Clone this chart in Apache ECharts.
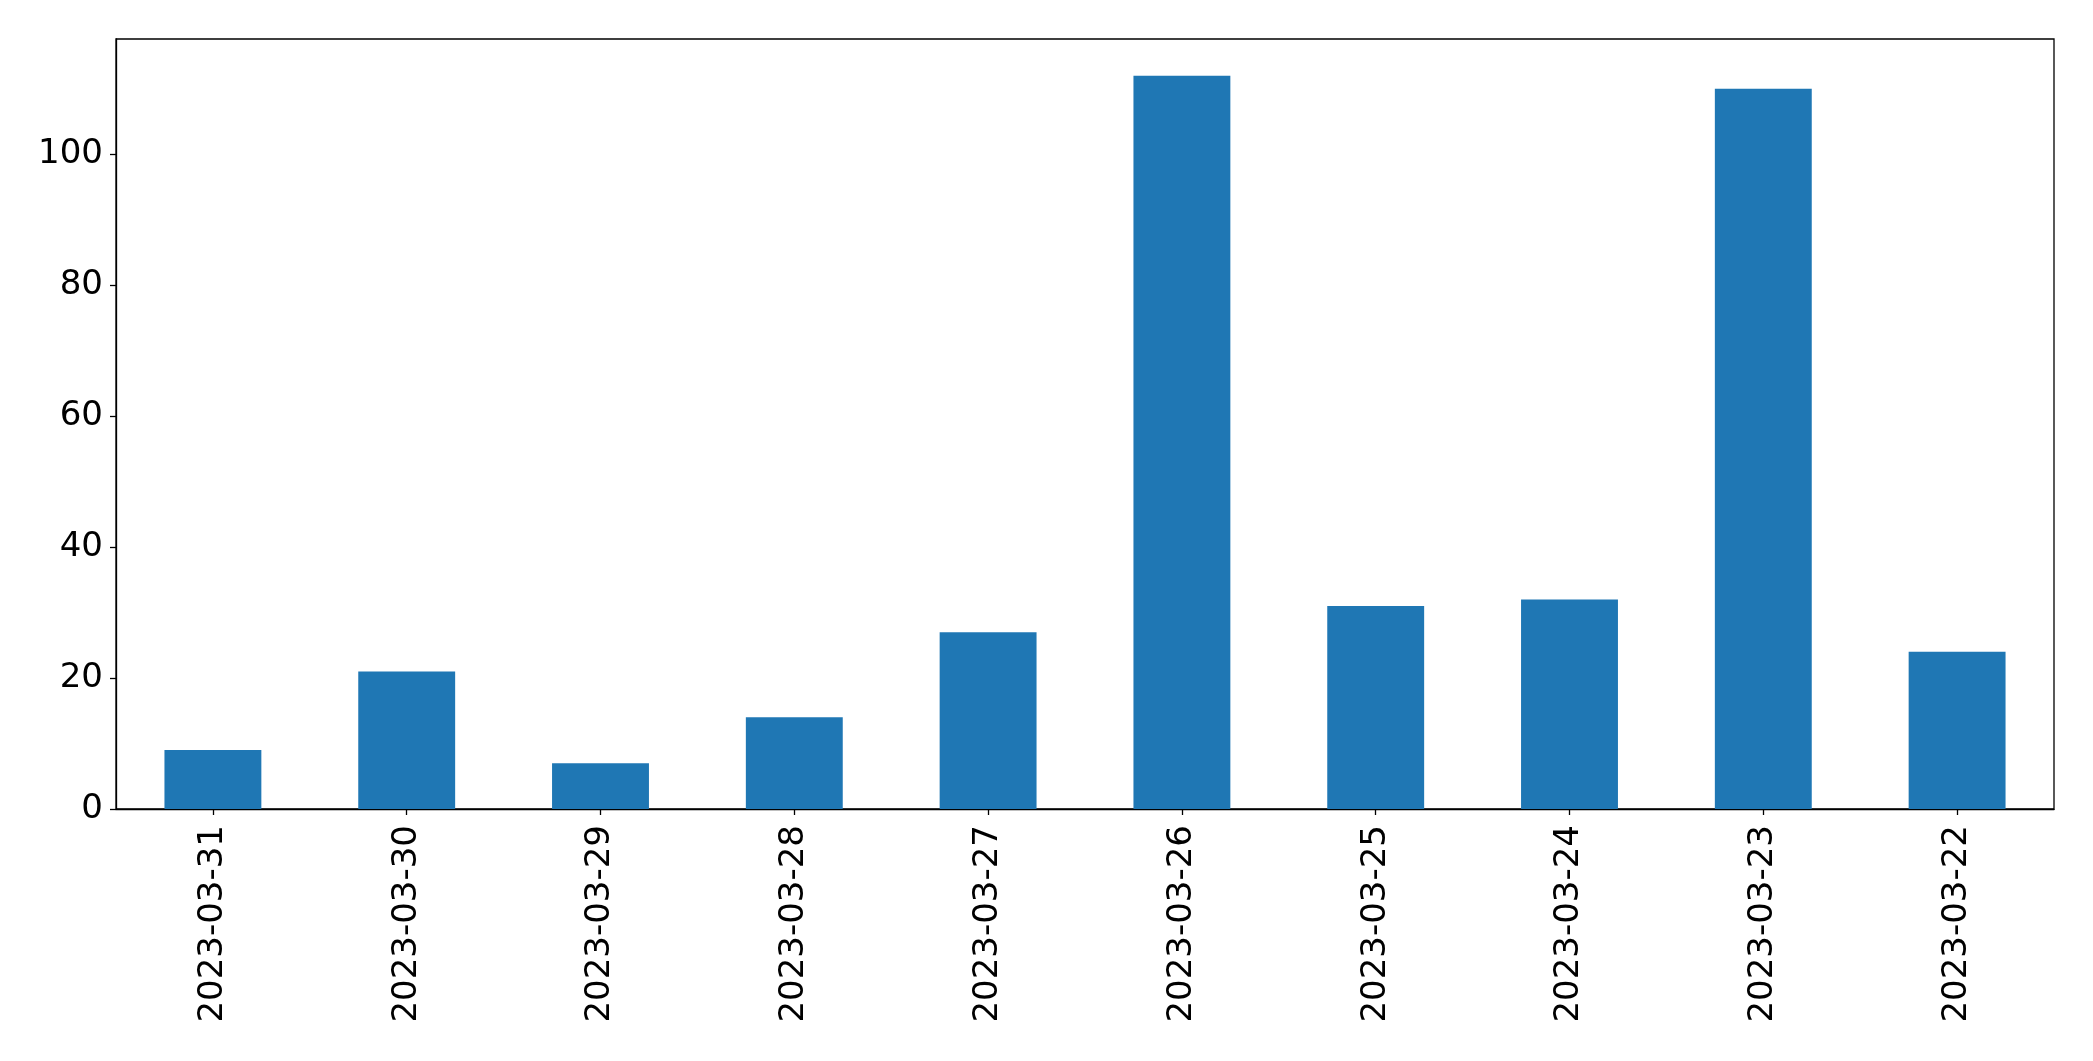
<!DOCTYPE html>
<html>
<head>
<meta charset="utf-8">
<script src="https://cdn.jsdelivr.net/npm/echarts@6/dist/echarts.min.js"></script>
<style>
html,body{margin:0;padding:0;background:#fff;}
#chart{width:2093px;height:1061px;}
</style>
</head>
<body>
<div id="chart"></div>
<script>
const categories = ['2023-03-31','2023-03-30','2023-03-29','2023-03-28','2023-03-27','2023-03-26','2023-03-25','2023-03-24','2023-03-23','2023-03-22'];
const values = [9, 21, 7, 14, 27, 112, 31, 32, 110, 24];
const yTicks = [0, 20, 40, 60, 80, 100];

const chart = echarts.init(document.getElementById('chart'), null, {renderer: 'canvas'});
const font = 'DejaVu Sans';
chart.setOption({
  animation: false,
  backgroundColor: '#ffffff',
  grid: {left: 116, right: 39, top: 39, bottom: 252, show: true, borderColor: '#000', borderWidth: 1.3, backgroundColor: 'transparent'},
  xAxis: {
    type: 'category',
    data: categories,
    boundaryGap: true,
    axisLine: {show: true, lineStyle: {color: '#000', width: 1.3}},
    axisTick: {show: true, alignWithLabel: true, length: 6, lineStyle: {color: '#000', width: 1.3}},
    axisLabel: {rotate: 90, margin: 16, color: '#000', fontSize: 34, fontFamily: font, interval: 0}
  },
  yAxis: {
    type: 'value',
    min: 0,
    max: 117.6,
    interval: 20,
    splitLine: {show: false},
    axisLine: {show: true, lineStyle: {color: '#000', width: 1.3}},
    axisTick: {show: true, length: 6, lineStyle: {color: '#000', width: 1.3}},
    axisLabel: {
      margin: 13, color: '#000', fontSize: 34, fontFamily: font,
      showMaxLabel: false,
      formatter: function (v) { return yTicks.indexOf(v) >= 0 ? String(v) : ''; }
    }
  },
  series: [{
    type: 'bar',
    data: values,
    barWidth: '50%',
    itemStyle: {color: '#1f77b4'}
  }]
});
</script>
</body>
</html>
